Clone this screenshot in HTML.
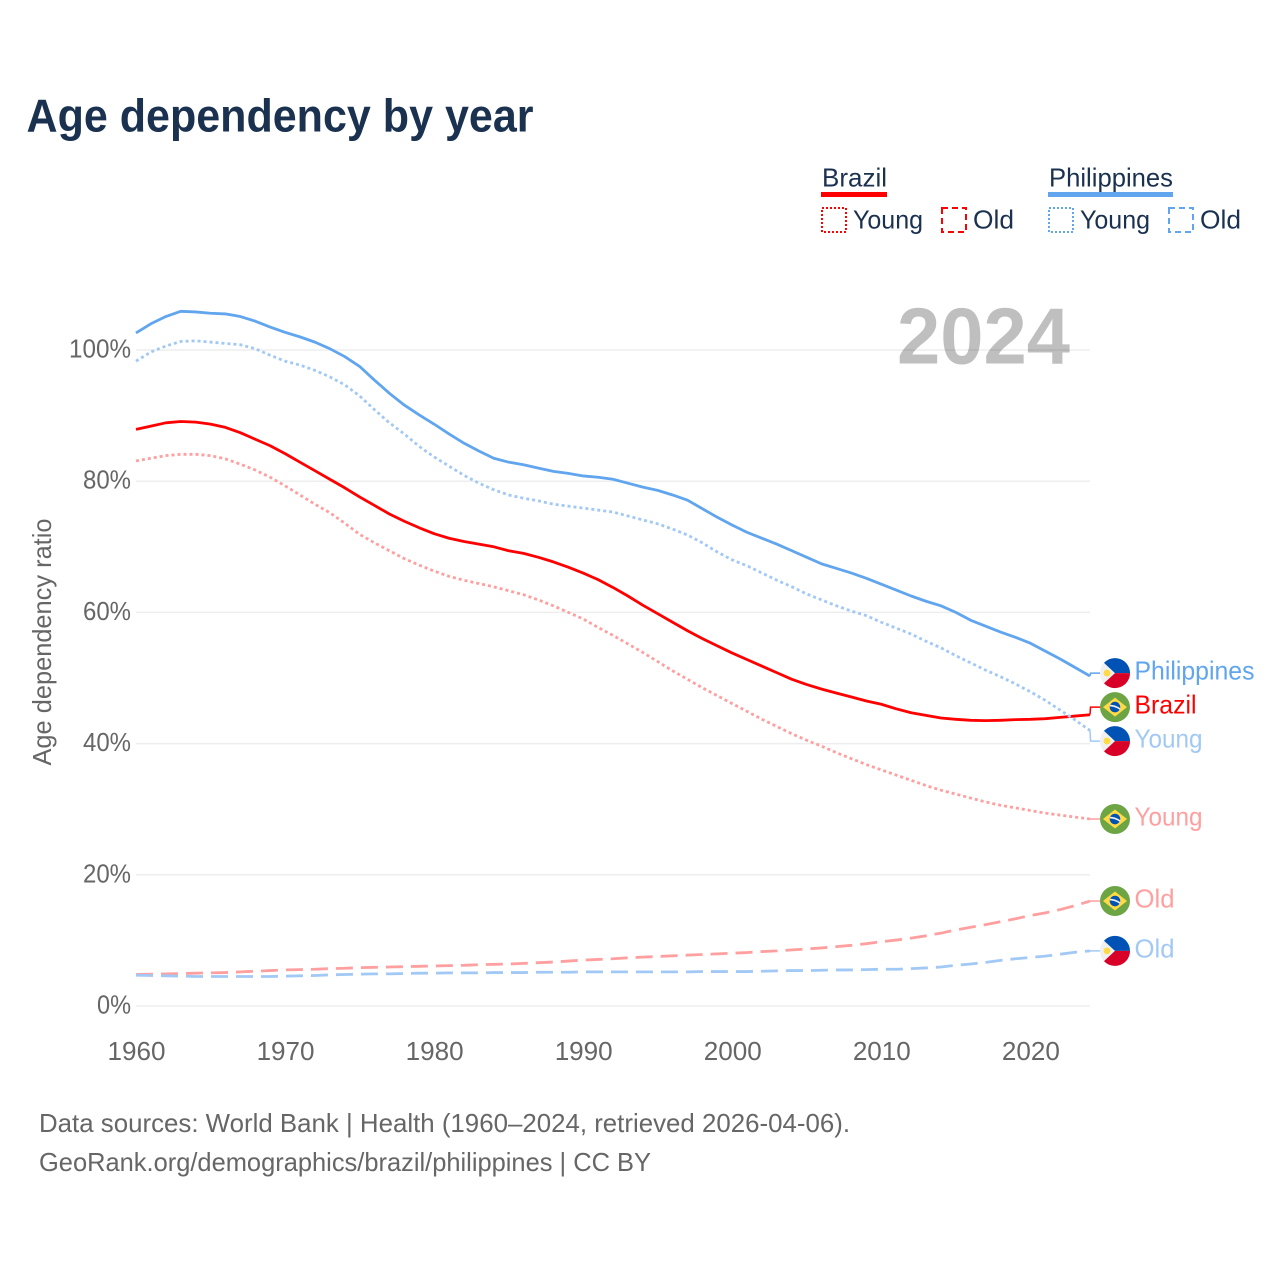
<!DOCTYPE html>
<html lang="en">
<head>
<meta charset="utf-8">
<title>Age dependency by year</title>
<style>
html,body{margin:0;padding:0;background:#fff;width:1280px;height:1280px;overflow:hidden}
svg{display:block;font-family:"Liberation Sans",sans-serif}
</style>
</head>
<body>
<svg id="chart" xmlns="http://www.w3.org/2000/svg" width="1280" height="1280" viewBox="0 0 1280 1280">
  <rect width="1280" height="1280" fill="#fff"/>
  <text x="26.500" y="131.500" font-size="46" font-weight="bold" fill="#1a3150" textLength="507" lengthAdjust="spacingAndGlyphs">Age dependency by year</text>

  <g font-size="26" fill="#1a3150">
    <text x="822" y="186.500" textLength="65" lengthAdjust="spacingAndGlyphs">Brazil</text>
    <rect x="821" y="192" width="66" height="5" fill="#ff0000"/>
    <rect x="822" y="208" width="24" height="24" fill="none" stroke="#ff0000" stroke-width="2" stroke-dasharray="2 2"/>
    <text x="853" y="228.500" textLength="70" lengthAdjust="spacingAndGlyphs">Young</text>
    <rect x="942" y="208" width="24" height="24" fill="none" stroke="#ff0000" stroke-width="2" stroke-dasharray="6 4"/>
    <text x="973" y="228.500" textLength="41" lengthAdjust="spacingAndGlyphs">Old</text>

    <text x="1049" y="186.500" textLength="124" lengthAdjust="spacingAndGlyphs">Philippines</text>
    <rect x="1048" y="192" width="125" height="5" fill="#60a5ee"/>
    <rect x="1049" y="208" width="24" height="24" fill="none" stroke="#60a5ee" stroke-width="2" stroke-dasharray="2 2"/>
    <text x="1080" y="228.500" textLength="70" lengthAdjust="spacingAndGlyphs">Young</text>
    <rect x="1169" y="208" width="24" height="24" fill="none" stroke="#60a5ee" stroke-width="2" stroke-dasharray="6 4"/>
    <text x="1200" y="228.500" textLength="41" lengthAdjust="spacingAndGlyphs">Old</text>
  </g>

  <g id="grid"></g>
  <text x="897" y="363.500" font-size="80" font-weight="bold" fill="#000" fill-opacity="0.25" textLength="173" lengthAdjust="spacingAndGlyphs">2024</text>
  <g id="series"></g>
  <g id="end-labels"></g>

  <text transform="translate(51,642) rotate(-90)" text-anchor="middle" font-size="26" fill="#666" textLength="247" lengthAdjust="spacingAndGlyphs">Age dependency ratio</text>

  <text x="39" y="1132" font-size="26" fill="#666" textLength="811" lengthAdjust="spacingAndGlyphs">Data sources: World Bank | Health (1960–2024, retrieved 2026-04-06).</text>
  <text x="39" y="1171" font-size="26" fill="#666" textLength="612" lengthAdjust="spacingAndGlyphs">GeoRank.org/demographics/brazil/philippines | CC BY</text>
</svg>

<script>
var firstYear = 1960;
var lastYear = 2024;
var yTickValues = [0, 20, 40, 60, 80, 100];
var xTickValues = [1960, 1970, 1980, 1990, 2000, 2010, 2020];

var philippinesTotal = [
102.6,104,105.1,105.9,105.8,105.6,105.5,105.1,104.4,103.5,
102.7,102,101.2,100.2,99,97.5,95.4,93.4,91.6,90.1,
88.7,87.2,85.8,84.6,83.5,82.9,82.5,82,81.5,81.2,
80.8,80.6,80.3,79.7,79.1,78.6,77.9,77.1,75.8,74.5,
73.3,72.2,71.3,70.4,69.4,68.4,67.4,66.7,66,65.2,
64.3,63.4,62.5,61.7,61,60,58.8,57.9,57,56.2,
55.3,54.1,52.9,51.6,50.3];

var philippinesYoung = [
98.3,99.7,100.6,101.3,101.4,101.2,101,100.8,100.2,99.2,
98.3,97.7,96.9,95.9,94.7,93,90.9,88.9,87.2,85.3,
83.7,82.3,80.9,79.7,78.7,77.9,77.4,77,76.5,76.2,
75.9,75.6,75.3,74.7,74.1,73.5,72.7,71.8,70.6,69.2,
68,67.1,66,64.9,63.9,62.8,61.9,61,60.2,59.5,
58.5,57.6,56.7,55.6,54.6,53.4,52.3,51.2,50.2,49.1,
47.9,46.6,45.1,43.6,42];

var philippinesOld = [
4.7,4.65,4.6,4.55,4.5,4.5,4.5,4.5,4.5,4.5,
4.55,4.6,4.65,4.75,4.8,4.85,4.9,4.9,4.95,5,
5,5.05,5.05,5.05,5.1,5.1,5.1,5.15,5.15,5.15,
5.2,5.2,5.2,5.2,5.2,5.2,5.2,5.2,5.25,5.25,
5.25,5.25,5.3,5.35,5.4,5.4,5.45,5.5,5.5,5.55,
5.6,5.6,5.7,5.8,5.95,6.2,6.4,6.65,6.95,7.2,
7.4,7.6,7.9,8.2,8.4];

var brazilTotal = [
87.9,88.4,88.9,89.1,89,88.7,88.2,87.4,86.4,85.4,
84.2,82.9,81.6,80.3,79,77.6,76.3,75,73.9,72.9,
72,71.3,70.8,70.4,70,69.4,69,68.4,67.7,66.9,
66,65,63.8,62.5,61.1,59.8,58.5,57.2,56,54.9,
53.8,52.8,51.8,50.8,49.8,49,48.3,47.7,47.1,46.5,
46,45.3,44.7,44.3,43.9,43.7,43.55,43.5,43.55,43.65,
43.7,43.8,44,44.2,44.4];

var brazilYoung = [
83.1,83.5,83.9,84.1,84.1,83.9,83.4,82.6,81.7,80.6,
79.3,77.9,76.5,75.2,73.6,71.9,70.6,69.4,68.2,67.2,
66.3,65.5,64.9,64.4,63.9,63.3,62.7,61.9,61,60,
59,57.7,56.5,55.2,53.9,52.5,51.1,49.8,48.5,47.3,
46.1,44.9,43.7,42.6,41.5,40.5,39.6,38.6,37.7,36.8,
36,35.2,34.4,33.6,32.9,32.3,31.7,31.1,30.6,30.2,
29.8,29.4,29.1,28.8,28.5];

var brazilOld = [
4.8,4.85,4.9,4.95,5,5.05,5.1,5.2,5.3,5.4,
5.5,5.55,5.6,5.7,5.75,5.85,5.9,5.95,6,6.05,
6.1,6.15,6.2,6.3,6.35,6.4,6.5,6.6,6.7,6.85,
7,7.1,7.2,7.35,7.45,7.55,7.65,7.75,7.85,7.95,
8.05,8.15,8.3,8.4,8.55,8.7,8.85,9.05,9.25,9.5,
9.8,10.05,10.35,10.7,11.1,11.6,12,12.4,12.85,13.3,
13.8,14.2,14.7,15.3,16];

var NS = 'http://www.w3.org/2000/svg';
function xScale(year) { return 136 + (year - firstYear) * (1090 - 136) / (lastYear - firstYear); }
function yScale(pct) { return 1006 - pct * 6.56; }
function make(tag, parent) {
  var el = document.createElementNS(NS, tag);
  parent.appendChild(el);
  return el;
}
function set(el, props) {
  for (var k in props) { el.setAttribute(k, props[k]); }
  return el;
}

var gridGroup = document.getElementById('grid');


yTickValues.forEach(function (v) {
  var line = make('line', gridGroup);
  
  
  set(line, {x1: 136, x2: 1090, y1: yScale(v), y2: yScale(v), stroke: '#eeeeee', 'stroke-width': 1.5});
  var label = make('text', gridGroup);
  
  
  var w = String(v).length * 14 + 20;
  set(label, {x: 131, y: yScale(v) + 7.5, 'text-anchor': 'end', 'font-size': 26, fill: '#666', textLength: w, lengthAdjust: 'spacingAndGlyphs'});
  label.textContent = v + '%';
});
xTickValues.forEach(function (v) {
  var label = make('text', gridGroup);
  
  
  set(label, {x: xScale(v) + 0.5, y: 1060, 'text-anchor': 'middle', 'font-size': 26, fill: '#666', textLength: 58, lengthAdjust: 'spacingAndGlyphs'});
  label.textContent = v;
});

var seriesList = [
  {key: 'philippines-total', label: 'Philippines', country: 'ph', values: philippinesTotal, color: '#60a5ee', dash: null, width: 2.8, labelW: 120},
  {key: 'brazil-total', label: 'Brazil', country: 'br', values: brazilTotal, color: '#ff0000', dash: null, width: 2.8, labelW: 62},
  {key: 'philippines-young', label: 'Young', country: 'ph', values: philippinesYoung, color: '#a2c9f5', dash: '3 3', width: 2.8, labelW: 68},
  {key: 'brazil-young', label: 'Young', country: 'br', values: brazilYoung, color: '#ff9f9f', dash: '3 3', width: 2.8, labelW: 68},
  {key: 'brazil-old', label: 'Old', country: 'br', values: brazilOld, color: '#ff9f9f', dash: '17 8', width: 2.8, labelW: 40},
  {key: 'philippines-old', label: 'Old', country: 'ph', values: philippinesOld, color: '#a2c9f5', dash: '17 8', width: 2.8, labelW: 40}
];

/* Collision-avoid the end labels: merge overlapping items into clusters centred on their mean */
function dodge(items, gap) {
  var clusters = items.slice().sort(function (a, b) { return a.endY - b.endY; }).map(function (it) {
    return {items: [it], center: it.endY};
  });
  var merged = true;
  while (merged) {
    merged = false;
    for (var i = 0; i < clusters.length - 1; i++) {
      var a = clusters[i], b = clusters[i + 1];
      var aBottom = a.center + (a.items.length - 1) * gap / 2;
      var bTop = b.center - (b.items.length - 1) * gap / 2;
      if (bTop - aBottom < gap) {
        var all = a.items.concat(b.items);
        var sum = 0;
        all.forEach(function (it) { sum += it.endY; });
        clusters.splice(i, 2, {items: all, center: sum / all.length});
        merged = true;
        break;
      }
    }
  }
  clusters.forEach(function (c) {
    c.items.forEach(function (it, idx) {
      it.labelY = c.center + (idx - (c.items.length - 1) / 2) * gap;
    });
  });
}
seriesList.forEach(function (s) { s.endY = yScale(s.values[s.values.length - 1]); });
dodge(seriesList, 34);

var seriesGroup = document.getElementById('series');


var labelsGroup = document.getElementById('end-labels');



function drawBrazilFlag(g) {
  var c = make('circle', g);
  set(c, {r: 15, fill: '#6da544'});
  var d = make('polygon', g);
  set(d, {points: '-12,0 0,-9.500 12,0 0,9.500', fill: '#ffda44'});
  var b = make('circle', g);
  set(b, {r: 5.300, fill: '#0052b4'});
  var w = make('path', g);
  set(w, {d: 'M-5,-1.500 Q0,-1.500 5,2', fill: 'none', stroke: '#f0f0f0', 'stroke-width': 1.600});
}
function drawPhilippinesFlag(g) {
  var c = make('circle', g);
  set(c, {r: 15, fill: '#f0f0f0'});
  var blue = make('path', g);
  set(blue, {d: 'M-11,-10.200 A15,15 0 0 1 15,0 L0,0 Z', fill: '#0052b4'});
  var red = make('path', g);
  set(red, {d: 'M-11,10.200 A15,15 0 0 0 15,0 L0,0 Z', fill: '#d80027'});
  var sun = make('circle', g);
  set(sun, {cx: -8, cy: 0, r: 3.400, fill: '#ffda44'});
}

seriesList.forEach(function (s) {
  var pts = s.values.map(function (v, i) {
    return xScale(firstYear + i).toFixed(2) + ',' + yScale(v).toFixed(2);
  });
  var line = make('polyline', seriesGroup);
  
  
  set(line, {points: pts.join(' '), fill: 'none', stroke: s.color, 'stroke-width': s.width, 'stroke-linejoin': 'round'});
  if (s.dash) { line.setAttribute('stroke-dasharray', s.dash); }

  var leader = make('polyline', seriesGroup);
  
  
  set(leader, {points: '1090,' + s.endY + ' 1090.5,' + s.labelY + ' 1100,' + s.labelY, fill: 'none', stroke: s.color, 'stroke-width': 1.500});

  var flag = make('g', labelsGroup);
  
  
  flag.setAttribute('transform', 'translate(1115,' + s.labelY + ')');
  if (s.country === 'br') { drawBrazilFlag(flag); } else { drawPhilippinesFlag(flag); }

  var label = make('text', labelsGroup);
  
  
  set(label, {x: 1134.500, y: s.labelY + 6.5, 'font-size': 26, fill: s.color, textLength: s.labelW, lengthAdjust: 'spacingAndGlyphs'});
  label.textContent = s.label;
});
</script>
</body>
</html>
